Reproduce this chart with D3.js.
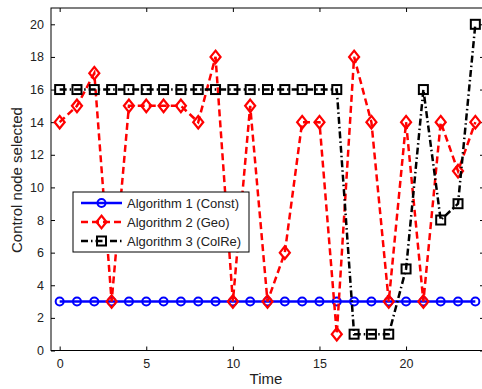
<!DOCTYPE html>
<html>
<head>
<meta charset="utf-8">
<script src="https://cdnjs.cloudflare.com/ajax/libs/d3/7.8.5/d3.min.js"></script>
<style>
  body { margin: 0; background: #fff; }
  text { font-family: "Liberation Sans", Arial, sans-serif; }
</style>
</head>
<body>
<script>
// Data
var times = d3.range(0, 25);
var algConst = [3,3,3,3,3,3,3,3,3,3,3,3,3,3,3,3,3,3,3,3,3,3,3,3,3];
var algGeo   = [14,15,17,3,15,15,15,15,14,18,3,15,3,6,14,14,1,18,14,3,14,3,14,11,14];
var algColRe = [16,16,16,16,16,16,16,16,16,16,16,16,16,16,16,16,16,1,1,1,5,16,8,9,20];
var xTicks = [0, 5, 10, 15, 20];
var yTicks = [0, 2, 4, 6, 8, 10, 12, 14, 16, 18, 20];
var seriesNames = ["Algorithm 1 (Const)", "Algorithm 2 (Geo)", "Algorithm 3 (ColRe)"];

var svgWidth = 482;
var svgHeight = 389;
var margin = { left: 51, top: 8, right: 484, bottom: 350.5 };

var svg = d3.select("body").append("svg")
            .attr("width", svgWidth)
            .attr("height", svgHeight);

var x = d3.scaleLinear().domain([-0.5, 24.5]).range([margin.left, margin.right]);
var y = d3.scaleLinear().domain([0, 21]).range([margin.bottom, margin.top]);

// Box and ticks (MATLAB style, ticks inside on all sides)
var axisG = svg.append("g").attr("stroke", "#000").attr("stroke-width", 1).attr("fill", "none");
axisG.append("rect")
     .attr("x", margin.left).attr("y", margin.top)
     .attr("width", margin.right - margin.left)
     .attr("height", margin.bottom - margin.top);

var bottomAxis = svg.append("g")
    .attr("transform", "translate(0," + margin.bottom + ")")
    .call(d3.axisBottom(x).tickValues(xTicks).tickSizeInner(-4).tickSizeOuter(0).tickPadding(9));
var topAxis = svg.append("g")
    .attr("transform", "translate(0," + margin.top + ")")
    .call(d3.axisTop(x).tickValues(xTicks).tickSizeInner(-4).tickSizeOuter(0).tickFormat(""));
var leftAxis = svg.append("g")
    .attr("transform", "translate(" + margin.left + ",0)")
    .call(d3.axisLeft(y).tickValues(yTicks).tickSizeInner(-4).tickSizeOuter(0).tickPadding(7));
var rightAxis = svg.append("g")
    .attr("transform", "translate(" + margin.right + ",0)")
    .call(d3.axisRight(y).tickValues(yTicks).tickSizeInner(-4).tickSizeOuter(0).tickFormat(""));

[bottomAxis, topAxis, leftAxis, rightAxis].forEach(function(a) {
  a.select(".domain").remove();
  a.selectAll("text").style("font-size", "12.5px").attr("fill", "#222");
});

// Series
var line = d3.line().x(function(d) { return x(d[0]); }).y(function(d) { return y(d[1]); });
function pairs(vals) { return times.map(function(t, i) { return [t, vals[i]]; }); }

var plot = svg.append("g");

// Algorithm 1
plot.append("path").datum(pairs(algConst))
    .attr("d", line).attr("fill", "none")
    .attr("stroke", "#0000ff").attr("stroke-width", 2.5);
plot.selectAll(".c1").data(pairs(algConst)).enter().append("circle")
    .attr("cx", function(d) { return x(d[0]); })
    .attr("cy", function(d) { return y(d[1]); })
    .attr("r", 4).attr("fill", "none")
    .attr("stroke", "#0000ff").attr("stroke-width", 2);

// Algorithm 2
var diamond = d3.symbol().type(d3.symbolDiamond2).size(64);
plot.append("path").datum(pairs(algGeo))
    .attr("d", line).attr("fill", "none")
    .attr("stroke", "#ff0000").attr("stroke-width", 2.5)
    .attr("stroke-dasharray", "7,4");
plot.selectAll(".d2").data(pairs(algGeo)).enter().append("path")
    .attr("d", diamond)
    .attr("transform", function(d) { return "translate(" + x(d[0]) + "," + y(d[1]) + ") scale(1,1.25)"; })
    .attr("fill", "none").attr("stroke", "#ff0000").attr("stroke-width", 2);

// Algorithm 3
plot.append("path").datum(pairs(algColRe))
    .attr("d", line).attr("fill", "none")
    .attr("stroke", "#000").attr("stroke-width", 2.5)
    .attr("stroke-dasharray", "7,3,1.5,3");
plot.selectAll(".s3").data(pairs(algColRe)).enter().append("rect")
    .attr("x", function(d) { return x(d[0]) - 4.5; })
    .attr("y", function(d) { return y(d[1]) - 4.5; })
    .attr("width", 9).attr("height", 9)
    .attr("fill", "none").attr("stroke", "#000").attr("stroke-width", 2);

// Legend
var legend = svg.append("g").attr("transform", "translate(73,192)");
legend.append("rect").attr("width", 176).attr("height", 60)
      .attr("fill", "#fff").attr("stroke", "#000").attr("stroke-width", 1);

var legendRows = [
  { color: "#0000ff", dash: null, mark: "circle" },
  { color: "#ff0000", dash: "7,4", mark: "diamond" },
  { color: "#000", dash: "7,3,1.5,3", mark: "square" }
];
legendRows.forEach(function(r, i) {
  var cy = 11 + i * 19;
  var g = legend.append("g").attr("transform", "translate(0," + cy + ")");
  g.append("line").attr("x1", 8).attr("x2", 49).attr("y1", 0).attr("y2", 0)
   .attr("stroke", r.color).attr("stroke-width", 2.5)
   .attr("stroke-dasharray", r.dash);
  if (r.mark === "circle") {
    g.append("circle").attr("cx", 28.5).attr("cy", 0).attr("r", 4)
     .attr("fill", "none").attr("stroke", r.color).attr("stroke-width", 2);
  } else if (r.mark === "diamond") {
    g.append("path").attr("d", diamond)
     .attr("transform", "translate(28.5,0) scale(1,1.25)")
     .attr("fill", "none").attr("stroke", r.color).attr("stroke-width", 2);
  } else {
    g.append("rect").attr("x", 24).attr("y", -4.5).attr("width", 9).attr("height", 9)
     .attr("fill", "none").attr("stroke", r.color).attr("stroke-width", 2);
  }
  g.append("text").attr("x", 54).attr("y", 5)
   .style("font-size", "13px").attr("fill", "#222")
   .text(seriesNames[i]);
});

// Axis labels
svg.append("text")
   .attr("x", 266).attr("y", 384)
   .attr("text-anchor", "middle")
   .style("font-size", "15px").attr("fill", "#222")
   .text("Time");

svg.append("text")
   .attr("transform", "translate(22," + 180 + ") rotate(-90)")
   .attr("text-anchor", "middle")
   .style("font-size", "15px").attr("fill", "#222")
   .text("Control node selected");
</script>
</body>
</html>
